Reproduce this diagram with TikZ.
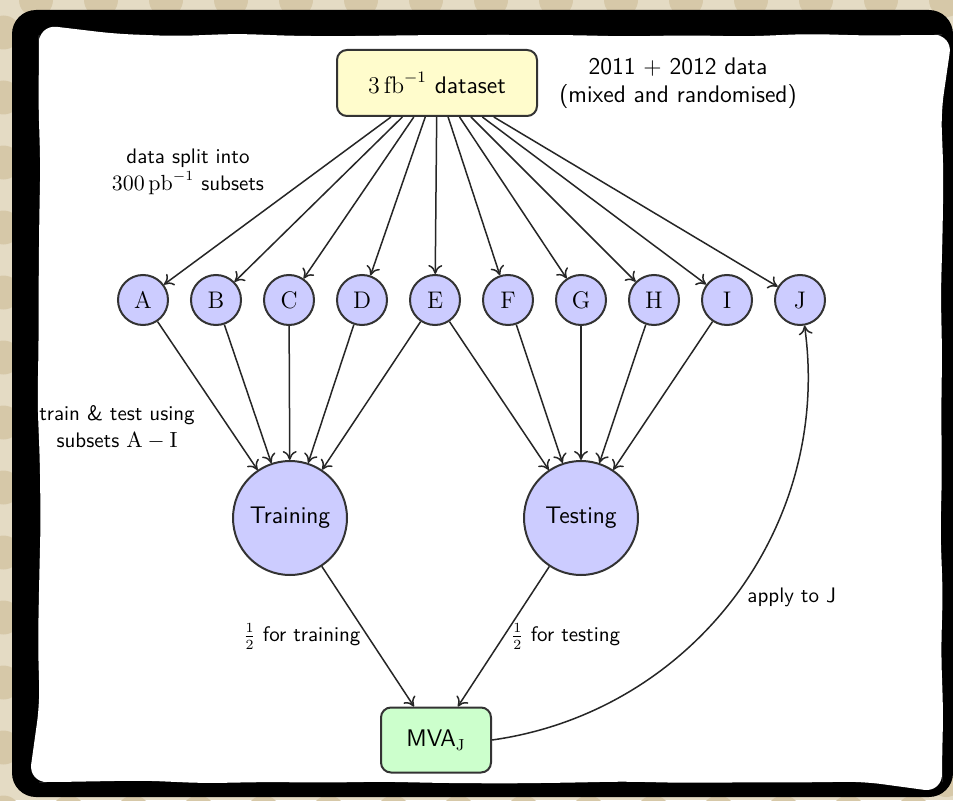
\documentclass[tikz,border=0pt]{standalone}
\usetikzlibrary{positioning,arrows.meta,decorations.pathmorphing}

\definecolor{paper}{RGB}{228,219,196}
\definecolor{paperdot}{RGB}{214,200,168}
\definecolor{setfill}{RGB}{204,204,255}
\definecolor{datafill}{RGB}{255,252,204}
\definecolor{mvafill}{RGB}{204,255,204}

\begin{document}
\begin{tikzpicture}[
  x=0.5pt, y=0.5pt,
  box/.style={draw=black!80, line width=1pt, rounded corners=5pt, align=center, font=\sffamily\large},
  sub/.style={circle, draw=black!80, line width=1pt, fill=setfill, minimum size=25pt, inner sep=0pt, font=\large},
  big/.style={circle, draw=black!80, line width=1pt, fill=setfill, minimum size=57pt, inner sep=0pt, font=\sffamily\large},
  lbl/.style={font=\sffamily\fontsize{10.5}{13.5}\selectfont, align=center},
  note/.style={font=\sffamily\large, align=center},
  conn/.style={->, draw=black!85, line width=0.75pt},
  >={To[length=4.5pt,width=7pt]}]
  \useasboundingbox (0,0) rectangle (953,800);
  % dotted paper behind a rough black frame
  \fill[paper] (0,0) rectangle (953,800);
  \foreach \i in {0,...,14}
    \foreach \j in {0,...,12} {
      \fill[paperdot] (36+65*\i,800-65*\j) circle[radius=8.5pt];
      \fill[paperdot] (3.5+65*\i,767.5-65*\j) circle[radius=8.5pt];
    }
  \pgfmathsetseed{5}
  \fill[black, rounded corners=12pt] (12,3) rectangle (953,790);
  \fill[white, rounded corners=9pt, decorate, decoration={random steps, segment length=30pt, amplitude=0.8pt}]
    (490,765) -| (942,18) -| (39,765) -- cycle;

  \node[box, fill=datafill, minimum width=100pt, minimum height=33pt] (data) at (437,717) {$3\,\mathrm{fb}^{-1}$ dataset};
  \node[note] (year) at (678,717) {2011 $+$ 2012 data\\(mixed and randomised)};
  \foreach \n [count=\i from 0] in {A,...,J}
    \node[sub] (\n) at (143+73*\i,500) {$\mathrm{\n}$};
  \node[big] (train) at (290,282) {Training};
  \node[big] (test) at (581,282) {Testing};
  \node[box, fill=mvafill, minimum width=55pt, minimum height=32.5pt] (mva) at (436,60) {MVA$_\mathrm{J}$};
  \node[lbl] (split) at (188,628) {data split into\\$300\,\mathrm{pb}^{-1}$ subsets};
  \node[lbl] (using) at (117,373) {train \& test using\\subsets $\mathrm{A}-\mathrm{I}$};

  \foreach \n in {A,...,J}
    \draw[conn] (data) -- (\n);
  \foreach \n in {A,...,E}
    \draw[conn] (\n) -- (train);
  \foreach \n in {E,...,I}
    \draw[conn] (\n) -- (test);
  \draw[conn] (train) -- node[lbl, left] {$\frac{1}{2}$ for training} (mva);
  \draw[conn] (test) -- node[lbl, right] {$\frac{1}{2}$ for testing} (mva);
  \draw[conn] (mva.east) to[bend right=45] node[lbl, right=3pt] {apply to J} (J);
\end{tikzpicture}
\end{document}
